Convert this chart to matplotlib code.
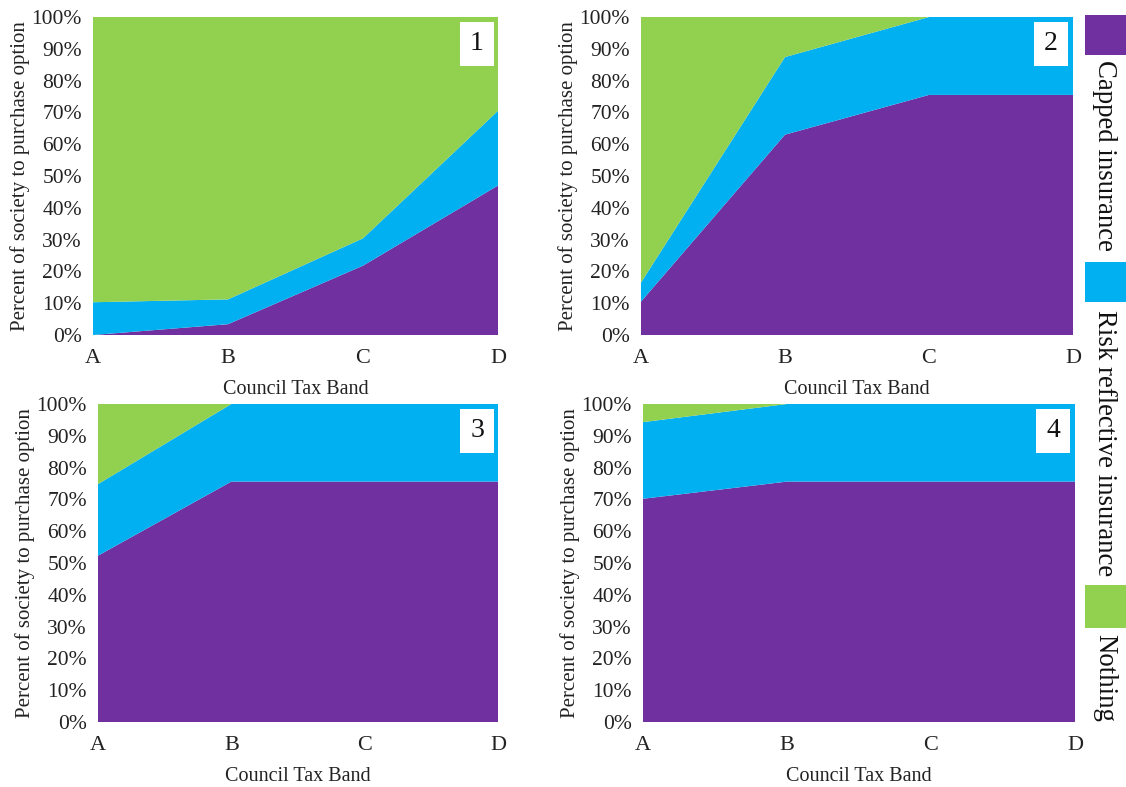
import matplotlib
matplotlib.use("Agg")
import matplotlib.pyplot as plt
from matplotlib.patches import Rectangle
from matplotlib.ticker import PercentFormatter

plt.rcParams['font.family'] = ['Liberation Serif', 'DejaVu Serif']

bands = ['A', 'B', 'C', 'D']
series_names = ['Capped insurance', 'Risk reflective insurance', 'Nothing']
colors = ['#7030A0', '#00B0F0', '#92D050']

capped_1 = [0.0, 3.4, 21.8, 47.0]
risk_1 = [10.3, 7.8, 8.6, 23.5]
nothing_1 = [89.7, 88.8, 69.6, 29.5]

capped_2 = [10.5, 63.0, 75.5, 75.5]
risk_2 = [6.0, 24.4, 24.5, 24.5]
nothing_2 = [83.5, 12.6, 0.0, 0.0]

capped_3 = [52.3, 75.6, 75.6, 75.6]
risk_3 = [22.5, 24.4, 24.4, 24.4]
nothing_3 = [25.2, 0.0, 0.0, 0.0]

capped_4 = [70.2, 75.6, 75.6, 75.6]
risk_4 = [24.1, 24.4, 24.4, 24.4]
nothing_4 = [5.7, 0.0, 0.0, 0.0]

panels = [
    ('1', capped_1, risk_1, nothing_1),
    ('2', capped_2, risk_2, nothing_2),
    ('3', capped_3, risk_3, nothing_3),
    ('4', capped_4, risk_4, nothing_4),
]

W, H = 1126, 787
fig = plt.figure(figsize=(W / 100, H / 100), dpi=100)

# axes boxes in pixels: left, top, right, bottom
boxes = [(93, 17, 498, 335), (641, 17, 1073, 335),
         (98, 404, 498, 722), (643, 404, 1075, 722)]

x = list(range(len(bands)))
for (num, cap, risk, noth), (l, t, r, b) in zip(panels, boxes):
    ax = fig.add_axes([l / W, (H - b) / H, (r - l) / W, (b - t) / H])
    ax.stackplot(x, cap, risk, noth, colors=colors, linewidth=0)
    ax.set_xlim(0, 3)
    ax.set_ylim(0, 100)
    ax.set_xticks(x)
    ax.set_xticklabels(bands)
    ax.set_yticks(range(0, 101, 10))
    ax.yaxis.set_major_formatter(PercentFormatter(decimals=0))
    ax.tick_params(length=0, labelsize=15.5, colors='#222222', pad=8)
    ax.tick_params(axis='x', pad=10, labelsize=16)
    for s in ax.spines.values():
        s.set_visible(False)
    ax.set_xlabel('Council Tax Band', fontsize=14.5, color='#222222', labelpad=9)
    ax.set_ylabel('Percent of society to purchase option', fontsize=15,
                  color='#222222', labelpad=1)
    ax.text(0.965, 0.955, num, transform=ax.transAxes, ha='right', va='top',
            fontsize=20, color='#111111',
            bbox=dict(boxstyle='square,pad=0.35', facecolor='white', edgecolor='none'))

# legend on the right, rotated
leg_items = [(15, 55, 60), (262, 302, 310), (585, 628, 634)]
for (y0, y1, ty), name, c in zip(leg_items, series_names, colors):
    fig.add_artist(Rectangle((1085 / W, (H - y1) / H), 41 / W, (y1 - y0) / H,
                             transform=fig.transFigure, facecolor=c, edgecolor='none'))
    fig.text(1105 / W, (H - ty) / H, name, rotation=-90, ha='center', va='top',
             fontsize=19.3, color='#111111')

fig.savefig('out.png', dpi=100)
